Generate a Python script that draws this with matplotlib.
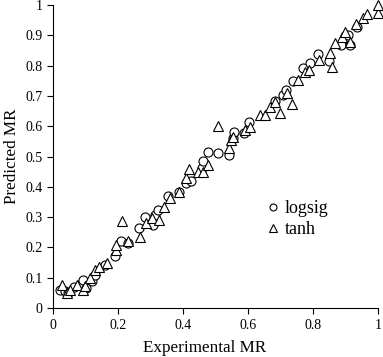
import numpy as np
import matplotlib
matplotlib.use("Agg")
import matplotlib.pyplot as plt
from matplotlib.lines import Line2D

plt.rcParams['font.family'] = ['Liberation Serif', 'DejaVu Serif']

# logsig network: experimental vs predicted MR
logsig_exp = [0.021, 0.036, 0.046, 0.064, 0.087, 0.092, 0.101, 0.120, 0.128, 0.159,
              0.190, 0.209, 0.231, 0.265, 0.282, 0.308, 0.313, 0.323, 0.352, 0.388,
              0.408, 0.423, 0.457, 0.462, 0.477, 0.506, 0.541, 0.552, 0.556, 0.587,
              0.603, 0.683, 0.708, 0.717, 0.739, 0.768, 0.790, 0.816, 0.850, 0.885,
              0.909, 0.914, 0.934]
logsig_pred = [0.059, 0.057, 0.050, 0.068, 0.081, 0.092, 0.065, 0.090, 0.109, 0.142,
               0.172, 0.222, 0.216, 0.263, 0.301, 0.274, 0.307, 0.323, 0.370, 0.384,
               0.412, 0.420, 0.461, 0.486, 0.514, 0.511, 0.505, 0.560, 0.582, 0.577,
               0.615, 0.682, 0.703, 0.719, 0.749, 0.791, 0.808, 0.838, 0.815, 0.868,
               0.901, 0.868, 0.928]

# tanh network
tanh_exp = [0.028, 0.043, 0.051, 0.072, 0.092, 0.098, 0.113, 0.130, 0.142, 0.164,
            0.192, 0.192, 0.212, 0.230, 0.267, 0.287, 0.303, 0.326, 0.341, 0.359,
            0.387, 0.409, 0.419, 0.447, 0.462, 0.477, 0.506, 0.541, 0.547, 0.555,
            0.590, 0.606, 0.637, 0.652, 0.667, 0.683, 0.698, 0.720, 0.734, 0.755,
            0.775, 0.788, 0.819, 0.852, 0.857, 0.868, 0.888, 0.898, 0.914, 0.932,
            0.955, 0.967, 1.000, 1.000]
tanh_pred = [0.076, 0.050, 0.059, 0.076, 0.059, 0.073, 0.098, 0.125, 0.136, 0.148,
             0.191, 0.208, 0.288, 0.220, 0.235, 0.280, 0.296, 0.290, 0.334, 0.362,
             0.384, 0.428, 0.458, 0.450, 0.450, 0.472, 0.601, 0.527, 0.554, 0.566,
             0.587, 0.596, 0.637, 0.637, 0.664, 0.681, 0.643, 0.709, 0.673, 0.752,
             0.780, 0.785, 0.818, 0.843, 0.796, 0.874, 0.895, 0.912, 0.879, 0.937,
             0.956, 0.970, 0.973, 1.000]

x_ticks = [0, 0.2, 0.4, 0.6, 0.8, 1]
x_labels = ["0", "0.2", "0.4", "0.6", "0.8", "1"]
y_ticks = [0, 0.1, 0.2, 0.3, 0.4, 0.5, 0.6, 0.7, 0.8, 0.9, 1]
y_labels = ["0", "0.1", "0.2", "0.3", "0.4", "0.5", "0.6", "0.7", "0.8", "0.9", "1"]

fig = plt.figure(figsize=(3.83, 3.57), dpi=100)
ax = fig.add_axes([0.139, 0.137, 0.848, 0.849])

ax.plot(logsig_exp, logsig_pred, linestyle="none", marker="o", markersize=6.5,
        markerfacecolor="white", markeredgecolor="black", markeredgewidth=0.8,
        clip_on=False)
ax.plot(tanh_exp, tanh_pred, linestyle="none", marker="^", markersize=7,
        markerfacecolor="white", markeredgecolor="black", markeredgewidth=0.8,
        clip_on=False)

ax.set_xlim(0, 1)
ax.set_ylim(0, 1)
ax.set_xticks(x_ticks)
ax.set_xticklabels(x_labels)
ax.set_yticks(y_ticks)
ax.set_yticklabels(y_labels)
ax.tick_params(direction="out", length=4, width=0.8, labelsize=10, colors="black")
for side in ("top", "right"):
    ax.spines[side].set_visible(False)
for side in ("left", "bottom"):
    ax.spines[side].set_linewidth(0.8)

ax.set_xlabel("Experimental MR", fontsize=12.3)
ax.xaxis.set_label_coords(0.466, -0.105)
ax.set_ylabel("Predicted MR", fontsize=12.3)

handles = [
    Line2D([], [], linestyle="none", marker="o", markersize=5, markerfacecolor="white",
           markeredgecolor="black", markeredgewidth=0.8, label="logsig"),
    Line2D([], [], linestyle="none", marker="^", markersize=5.5, markerfacecolor="white",
           markeredgecolor="black", markeredgewidth=0.8, label="tanh"),
]
ax.legend(handles=handles, loc="center left", bbox_to_anchor=(0.612, 0.293),
          frameon=False, fontsize=13, handletextpad=0.4, handlelength=0.5,
          labelspacing=0.2)

fig.savefig("out.png", dpi=100)
